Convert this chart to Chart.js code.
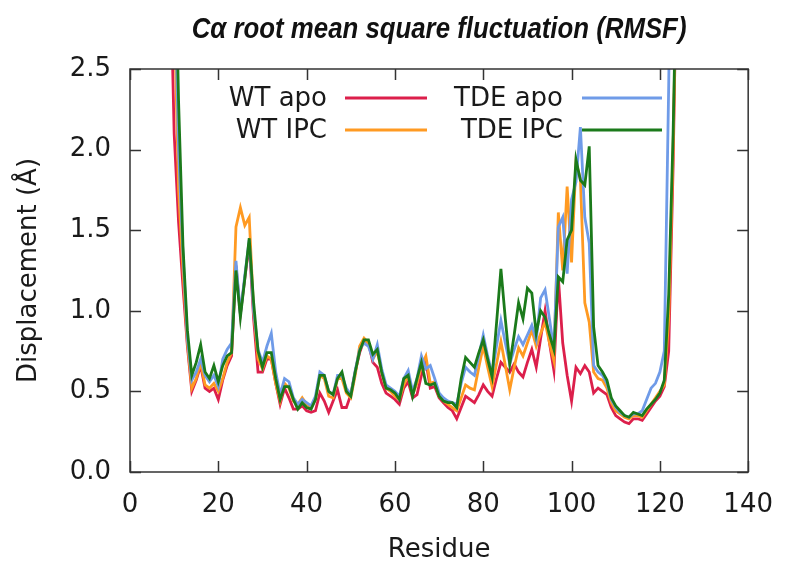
<!DOCTYPE html>
<html>
<head>
<meta charset="utf-8">
<script src="https://cdn.jsdelivr.net/npm/chart.js@4.4.1/dist/chart.umd.min.js"></script>
<style>
  html, body { margin: 0; padding: 0; background: #ffffff; }
  #wrap { width: 791px; height: 567px; }
</style>
</head>
<body>
<div id="wrap"><canvas id="c" width="791" height="567"></canvas></div>
<script>
// ---- data ----
const residues = [];
for (let r = 1; r <= 125; r++) residues.push(r);

const chartTitle = 'Cα root mean square fluctuation (RMSF)';
const seriesLabels = ['WT apo', 'WT IPC', 'TDE apo', 'TDE IPC'];
const xTicks = [0, 20, 40, 60, 80, 100, 120, 140];
const yTicks = [0.0, 0.5, 1.0, 1.5, 2.0, 2.5];

const wtApo = [
  9.0, 8.1, 7.3, 6.5, 5.8, 5.1, 4.5, 3.9, 3.3, 2.1,
  1.55, 1.15, 0.78, 0.50, 0.57, 0.66, 0.52, 0.50, 0.52, 0.45,
  0.57, 0.66, 0.72, 1.28, 0.98, 1.20, 1.42, 0.95, 0.62, 0.62,
  0.70, 0.70, 0.55, 0.42, 0.52, 0.46, 0.39, 0.39, 0.41, 0.38,
  0.37, 0.38, 0.49, 0.44, 0.37, 0.44, 0.51, 0.40, 0.40, 0.48,
  0.62, 0.74, 0.82, 0.80, 0.68, 0.65, 0.55, 0.49, 0.47, 0.45,
  0.42, 0.52, 0.56, 0.46, 0.48, 0.60, 0.69, 0.52, 0.53, 0.46,
  0.43, 0.40, 0.38, 0.33, 0.40, 0.47, 0.45, 0.43, 0.48, 0.54,
  0.50, 0.47, 0.58, 0.68, 0.65, 0.62, 0.67, 0.62, 0.59, 0.68,
  0.76, 0.65, 0.83, 1.00, 0.80, 0.63, 1.21, 0.80, 0.60, 0.44,
  0.65, 0.61, 0.66, 0.62, 0.49, 0.52, 0.50, 0.48, 0.40, 0.35,
  0.33, 0.31, 0.30, 0.33, 0.33, 0.32, 0.36, 0.40, 0.44, 0.47,
  0.53, 0.75, 1.90, 3.50, 5.00
];
const wtIpc = [
  9.2, 8.3, 7.5, 6.7, 6.0, 5.3, 4.7, 4.1, 3.5, 2.9,
  1.75, 1.25, 0.80, 0.52, 0.58, 0.68, 0.54, 0.52, 0.55, 0.50,
  0.58, 0.68, 0.74, 1.52, 1.64, 1.53, 1.58, 1.00, 0.70, 0.64,
  0.72, 0.70, 0.55, 0.44, 0.55, 0.52, 0.44, 0.42, 0.46, 0.42,
  0.40, 0.45, 0.60, 0.58, 0.47, 0.46, 0.58, 0.58, 0.49, 0.46,
  0.60, 0.78, 0.83, 0.80, 0.70, 0.75, 0.62, 0.52, 0.50, 0.47,
  0.45, 0.54, 0.60, 0.48, 0.55, 0.66, 0.72, 0.55, 0.56, 0.47,
  0.44, 0.42, 0.40, 0.38, 0.46, 0.54, 0.52, 0.51, 0.65, 0.78,
  0.65, 0.53, 0.67, 0.81, 0.66, 0.51, 0.65, 0.77, 0.72, 0.80,
  0.88, 0.78, 0.86, 0.93, 0.80, 0.69, 1.61, 1.25, 1.77, 1.30,
  1.92, 1.82, 1.05, 0.93, 0.62, 0.58, 0.57, 0.52, 0.43, 0.38,
  0.36, 0.34, 0.33, 0.35, 0.35, 0.34, 0.38, 0.42, 0.46, 0.50,
  0.54, 0.95, 2.00, 3.50, 5.00
];
const tdeApo = [
  9.4, 8.5, 7.7, 6.9, 6.2, 5.5, 4.9, 4.3, 3.7, 3.2,
  2.00, 1.35, 0.83, 0.57, 0.62, 0.70, 0.60, 0.56, 0.60, 0.53,
  0.70, 0.76, 0.80, 1.31, 0.98, 1.22, 1.44, 1.00, 0.76, 0.68,
  0.78, 0.86, 0.62, 0.48, 0.58, 0.56, 0.46, 0.42, 0.45, 0.43,
  0.41, 0.47, 0.62, 0.60, 0.50, 0.48, 0.60, 0.60, 0.52, 0.48,
  0.63, 0.76, 0.80, 0.78, 0.70, 0.79, 0.64, 0.54, 0.52, 0.50,
  0.47, 0.58, 0.63, 0.50, 0.58, 0.72, 0.64, 0.66, 0.58, 0.49,
  0.46, 0.44, 0.43, 0.42, 0.55, 0.65, 0.62, 0.60, 0.72, 0.85,
  0.72, 0.61, 0.78, 0.94, 0.80, 0.67, 0.76, 0.84, 0.79, 0.85,
  0.91, 0.82, 1.08, 1.13, 0.95, 0.76, 1.52, 1.58, 1.23, 1.69,
  1.80, 2.14, 1.58, 1.42, 0.66, 0.62, 0.60, 0.55, 0.45, 0.40,
  0.37, 0.35, 0.34, 0.36, 0.36, 0.38, 0.45, 0.52, 0.55, 0.62,
  0.75, 2.40, 4.50, 6.00, 7.00
];
const tdeIpc = [
  9.6, 8.7, 7.9, 7.1, 6.4, 5.7, 5.1, 4.5, 4.0, 3.6,
  2.30, 1.40, 0.88, 0.60, 0.68, 0.79, 0.62, 0.58, 0.66, 0.56,
  0.66, 0.72, 0.74, 1.25, 0.96, 1.20, 1.45, 1.05, 0.75, 0.65,
  0.74, 0.74, 0.58, 0.45, 0.53, 0.53, 0.45, 0.39, 0.43, 0.40,
  0.39, 0.45, 0.60, 0.60, 0.50, 0.48, 0.58, 0.62, 0.50, 0.47,
  0.62, 0.75, 0.82, 0.82, 0.73, 0.76, 0.62, 0.52, 0.51, 0.49,
  0.45, 0.58, 0.60, 0.47, 0.58, 0.68, 0.55, 0.54, 0.55, 0.47,
  0.44, 0.43, 0.43, 0.40, 0.58, 0.71, 0.68, 0.65, 0.74, 0.82,
  0.70, 0.59, 0.92, 1.26, 0.95, 0.67, 0.85, 1.05, 0.95, 1.14,
  1.11, 0.86, 1.00, 0.96, 0.85, 0.76, 1.21, 1.18, 1.44, 1.50,
  1.94, 1.81, 1.78, 2.02, 0.90, 0.66, 0.62, 0.57, 0.46, 0.41,
  0.38, 0.35, 0.34, 0.37, 0.36, 0.35, 0.39, 0.42, 0.45, 0.49,
  0.57, 1.10, 2.10, 3.50, 5.00
];

const seriesValues = [wtApo, wtIpc, tdeApo, tdeIpc];
const seriesColors = ['#dc1f4b', '#ff9a22', '#6f9be8', '#1b7a1b'];
const drawOrder = [3, 2, 1, 0];

const TEXT = '#1a1a1a';
const FRAME = '#333333';
const FONT = 'DejaVu Sans, Verdana, sans-serif';

const datasets = seriesLabels.map((lab, i) => ({
  label: lab,
  data: residues.map((r, k) => ({ x: r, y: seriesValues[i][k] })),
  borderColor: seriesColors[i],
  backgroundColor: seriesColors[i],
  borderWidth: 2.8,
  pointRadius: 0,
  tension: 0,
  fill: false,
  order: drawOrder[i],
  clip: 0
}));

// frame, inward ticks, condensed title and gnuplot-style key
const framePlugin = {
  id: 'frame',
  afterDatasetsDraw(chart) {
    const { ctx, chartArea: a, scales } = chart;
    const xs = scales.x, ys = scales.y;
    const len = 11;
    ctx.save();
    ctx.strokeStyle = FRAME;
    ctx.lineWidth = 1.5;
    ctx.beginPath();
    xTicks.forEach(v => {
      const px = Math.round(xs.getPixelForValue(v)) + 0.5;
      ctx.moveTo(px, a.bottom); ctx.lineTo(px, a.bottom - len);
      ctx.moveTo(px, a.top); ctx.lineTo(px, a.top + len);
    });
    yTicks.forEach(v => {
      const py = Math.round(ys.getPixelForValue(v)) + 0.5;
      ctx.moveTo(a.left, py); ctx.lineTo(a.left + len, py);
      ctx.moveTo(a.right, py); ctx.lineTo(a.right - len, py);
    });
    ctx.stroke();
    ctx.strokeRect(a.left, a.top, a.right - a.left, a.bottom - a.top);

    // key
    ctx.font = '26px ' + FONT;
    ctx.textAlign = 'right';
    ctx.textBaseline = 'middle';
    const cols = [
      { textRight: a.left + 197, l0: a.left + 215, l1: a.left + 297 },
      { textRight: a.left + 433, l0: a.left + 452, l1: a.left + 532 }
    ];
    const rows = [a.top + 29, a.top + 61];
    chart.data.datasets.forEach((ds, i) => {
      const c = cols[Math.floor(i / 2)];
      const y = rows[i % 2];
      ctx.fillStyle = TEXT;
      ctx.fillText(ds.label, c.textRight, y + 1);
      ctx.strokeStyle = ds.borderColor;
      ctx.lineWidth = 2.8;
      ctx.beginPath();
      ctx.moveTo(c.l0, y); ctx.lineTo(c.l1, y);
      ctx.stroke();
    });

    // title (condensed bold italic)
    ctx.save();
    const cx = (a.left + a.right) / 2;
    ctx.translate(cx, 30);
    ctx.scale(0.86, 1);
    ctx.font = 'italic bold 30px "Liberation Sans", Arial, sans-serif';
    ctx.fillStyle = '#111111';
    ctx.textAlign = 'center';
    ctx.textBaseline = 'middle';
    ctx.fillText(chartTitle, 0, 0);
    ctx.restore();

    ctx.restore();
  }
};

new Chart(document.getElementById('c'), {
  type: 'line',
  data: { datasets },
  plugins: [framePlugin],
  options: {
    responsive: false,
    animation: false,
    devicePixelRatio: 1,
    layout: { padding: { top: 69, right: 34, bottom: 0, left: 0 } },
    plugins: {
      legend: { display: false },
      tooltip: { enabled: false },
      title: { display: false }
    },
    scales: {
      x: {
        type: 'linear',
        min: 0, max: 140,
        afterFit(s) { s.height = 95; },
        afterBuildTicks(s) { s.ticks = xTicks.map(v => ({ value: v })); },
        grid: { display: false, drawTicks: false },
        border: { display: false },
        ticks: { color: TEXT, font: { family: FONT, size: 26 }, padding: 18, maxRotation: 0, autoSkip: false },
        title: { display: true, text: 'Residue', color: TEXT, font: { family: FONT, size: 26, lineHeight: 1.2 }, padding: { top: 0, bottom: 1 } }
      },
      y: {
        type: 'linear',
        min: 0, max: 2.5,
        afterFit(s) { s.width = 130; },
        afterBuildTicks(s) { s.ticks = yTicks.map(v => ({ value: v })); },
        grid: { display: false, drawTicks: false },
        border: { display: false },
        ticks: { color: TEXT, font: { family: FONT, size: 26 }, padding: 19, callback: v => Number(v).toFixed(1) },
        title: { display: true, text: 'Displacement (Å)', color: TEXT, font: { family: FONT, size: 26, lineHeight: 1.2 }, padding: { top: 14, bottom: 0 } }
      }
    }
  }
});
</script>
</body>
</html>
